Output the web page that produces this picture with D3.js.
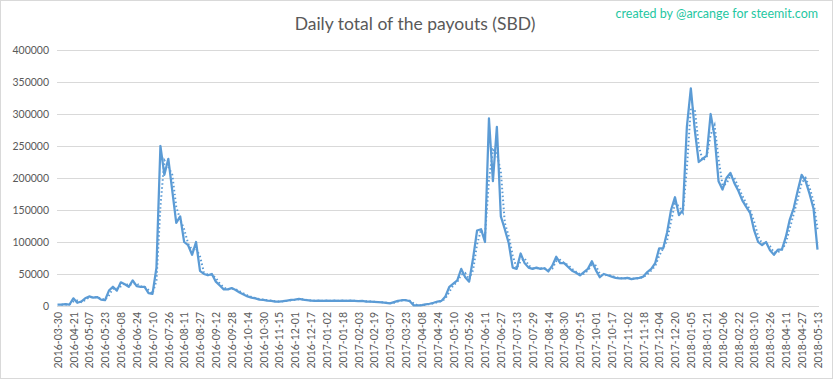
<!DOCTYPE html>
<html>
<head>
<meta charset="utf-8">
<script src="https://cdn.jsdelivr.net/npm/d3@7"></script>
<style>
  body { margin: 0; background: #fff; }
  text { font-family: Lato, "Open Sans", sans-serif; }
</style>
</head>
<body>
<div id="chart"></div>
<script>
// tick labels on the category axis (one every 16 days)
var tickLabels = [
  "2016-03-30", "2016-04-21", "2016-05-07", "2016-05-23", "2016-06-08", "2016-06-24",
  "2016-07-10", "2016-07-26", "2016-08-11", "2016-08-27", "2016-09-12", "2016-09-28",
  "2016-10-14", "2016-10-30", "2016-11-15", "2016-12-01", "2016-12-17", "2017-01-02",
  "2017-01-18", "2017-02-03", "2017-02-19", "2017-03-07", "2017-03-23", "2017-04-08",
  "2017-04-24", "2017-05-10", "2017-05-26", "2017-06-11", "2017-06-27", "2017-07-13",
  "2017-07-29", "2017-08-14", "2017-08-30", "2017-09-15", "2017-10-01", "2017-10-17",
  "2017-11-02", "2017-11-18", "2017-12-04", "2017-12-20", "2018-01-05", "2018-01-21",
  "2018-02-06", "2018-02-22", "2018-03-10", "2018-03-26", "2018-04-11", "2018-04-27",
  "2018-05-13"
];
var daysPerLabel = 16;

// daily payout total (SBD), every 4th day
var daysPerPoint = 4;
var payouts = [
  2000, 2000, 3000, 2000, 12000, 5000, 7000, 12000, 15000, 13000,
  14000, 10000, 9000, 24000, 30000, 24000, 37000, 34000, 30000, 40000,
  31000, 30000, 30000, 20000, 19000, 60000, 250000, 205000, 230000, 180000,
  130000, 140000, 100000, 95000, 80000, 100000, 55000, 50000, 48000, 50000,
  38000, 32000, 26000, 26000, 28000, 25000, 21000, 18000, 15000, 13000,
  12000, 10000, 9400, 8500, 8000, 7000, 7000, 7500, 8500, 9500,
  10000, 11000, 10000, 9000, 8500, 8000, 8500, 8000, 8500, 8000,
  8500, 8000, 8500, 8000, 8500, 8000, 7500, 8000, 7000, 7000,
  6500, 6000, 5500, 5000, 4000, 6000, 8000, 9000, 9000, 7500,
  1000, 1000, 1500, 2500, 3500, 5000, 7000, 8000, 15000, 30000,
  35000, 40000, 58000, 45000, 38000, 75000, 118000, 120000, 100000, 293000,
  195000, 280000, 140000, 120000, 98000, 60000, 58000, 82000, 67000, 60000,
  58000, 60000, 58000, 59000, 54000, 63000, 77000, 67000, 67000, 61000,
  55000, 52000, 48000, 53000, 58000, 70000, 56000, 45000, 50000, 48000,
  46000, 44000, 43000, 43000, 44000, 42000, 43000, 44000, 46000, 53000,
  58000, 67000, 90000, 90000, 115000, 150000, 170000, 142000, 150000, 280000,
  340000, 275000, 225000, 230000, 235000, 300000, 265000, 195000, 182000, 200000,
  208000, 192000, 180000, 165000, 155000, 145000, 118000, 100000, 95000, 100000,
  87000, 80000, 88000, 88000, 108000, 135000, 153000, 180000, 205000, 195000,
  175000, 152000, 88000
];

var yTicks = [0, 50000, 100000, 150000, 200000, 250000, 300000, 350000, 400000];

var w = 833, h = 379;
var plotLeft = 57, plotRight = 819, plotTop = 50, plotBottom = 306;

var svg = d3.select("#chart").append("svg")
    .attr("width", w)
    .attr("height", h);

svg.append("rect")
    .attr("x", 0.5).attr("y", 0.5)
    .attr("width", w - 1).attr("height", h - 1)
    .attr("fill", "#fff")
    .attr("stroke", "#d9d9d9");

var x = d3.scaleLinear()
    .domain([0, (tickLabels.length - 1) * daysPerLabel])
    .range([plotLeft + 0.5, plotRight - 1.5]);

var y = d3.scaleLinear()
    .domain([0, 400000])
    .range([plotBottom, plotTop]);

// y axis + gridlines
var yAxis = svg.append("g")
    .attr("transform", "translate(" + plotLeft + ",0)")
    .call(d3.axisLeft(y).tickValues(yTicks).tickSize(-(plotRight - plotLeft)).tickPadding(8).tickFormat(d3.format("d")));
yAxis.select(".domain").remove();
yAxis.selectAll("line").attr("stroke", "#d9d9d9");
yAxis.selectAll("text").attr("fill", "#595959").style("font-size", "10.5px");

// category axis
var xAxis = svg.append("g")
    .attr("transform", "translate(0," + plotBottom + ")")
    .call(d3.axisBottom(x)
        .tickValues(tickLabels.map(function (d, i) { return i * daysPerLabel; }))
        .tickSize(0)
        .tickFormat(function (d) { return tickLabels[d / daysPerLabel]; }));
xAxis.select(".domain").attr("stroke", "#d9d9d9").attr("d", "M" + plotLeft + ",0.5H" + plotRight);
xAxis.selectAll("text")
    .attr("transform", "rotate(-90)")
    .attr("x", -6)
    .attr("y", 0)
    .attr("dy", "0.35em")
    .attr("text-anchor", "end")
    .attr("fill", "#595959")
    .style("font-size", "10.5px");

// trailing moving average (2 points = 8 days)
var avg = payouts.map(function (d, i) {
    if (i < 1) return null;
    return (payouts[i] + payouts[i - 1]) / 2;
});

var line = d3.line()
    .defined(function (d) { return d !== null; })
    .x(function (d, i) { return x(i * daysPerPoint); })
    .y(function (d) { return y(d); });

svg.append("path")
    .datum(avg)
    .attr("d", line)
    .attr("fill", "none")
    .attr("stroke", "#5b9bd5")
    .attr("stroke-width", 2)
    .attr("stroke-dasharray", "1.5,2.5");

svg.append("path")
    .datum(payouts)
    .attr("d", line)
    .attr("fill", "none")
    .attr("stroke", "#5b9bd5")
    .attr("stroke-width", 2.25)
    .attr("stroke-linejoin", "round");

// titles
svg.append("text")
    .attr("x", 415)
    .attr("y", 30)
    .attr("text-anchor", "middle")
    .attr("fill", "#595959")
    .style("font-size", "17.5px")
    .text("Daily total of the payouts (SBD)");

svg.append("text")
    .attr("x", 818)
    .attr("y", 18)
    .attr("text-anchor", "end")
    .attr("fill", "#1fc7a2")
    .style("font-size", "12.5px")
    .text("created by @arcange for steemit.com");
</script>
</body>
</html>
